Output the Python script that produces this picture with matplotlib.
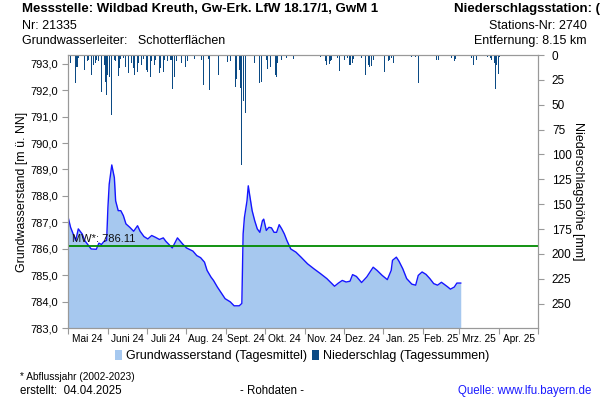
import numpy as np
import matplotlib
matplotlib.use("Agg")
import matplotlib.pyplot as plt
from matplotlib.patches import Patch
from matplotlib.ticker import FuncFormatter, MultipleLocator

plt.rcParams['font.family'] = ['Liberation Sans', 'DejaVu Sans']

start = np.datetime64('2024-05-01')

# Groundwater level (daily mean), day offsets from 2024-05-01
gw_day = [0, 2, 4, 6, 8, 11, 13, 15, 18, 22, 24, 26, 28, 30, 31, 32, 34, 36, 37, 39,
          41, 43, 45, 48, 51, 54, 56, 59, 62, 65, 68, 71, 74, 76, 81, 85, 89, 92, 97, 100,
          103, 106, 108, 111, 113, 116, 119, 122, 126, 129, 133, 135, 136, 137, 139, 140,
          141, 143, 145, 147, 149, 151, 152, 154, 156, 158, 160, 162, 164, 166, 168, 170,
          173, 177, 181, 186, 191, 196, 201, 207, 210, 213, 216, 219, 221, 224, 228, 232,
          237, 240, 244, 248, 251, 252, 255, 257, 260, 263, 267, 270, 272, 275, 278, 281,
          284, 287, 290, 292, 295, 297, 300, 302, 305]
gw_val = [787.21, 786.81, 786.56, 786.31, 786.75, 786.56, 786.31, 786.18, 785.99, 785.98,
          786.21, 786.16, 786.28, 786.31, 787.56, 788.44, 789.17, 788.69, 787.81, 787.44,
          787.44, 787.25, 786.94, 786.81, 786.66, 786.87, 786.66, 786.46, 786.37, 786.50,
          786.43, 786.35, 786.41, 786.28, 786.03, 786.41, 786.18, 786.03, 785.91, 785.74,
          785.66, 785.49, 785.18, 784.93, 784.80, 784.55, 784.33, 784.11, 783.99, 783.84,
          783.84, 783.93, 786.56, 787.18, 787.81, 788.38, 788.06, 787.44, 787.06, 786.75,
          786.62, 787.06, 787.12, 786.69, 786.81, 786.79, 786.62, 786.62, 786.91, 786.75,
          786.56, 786.31, 785.99, 785.87, 785.68, 785.43, 785.24, 785.06, 784.87, 784.58,
          784.70, 784.80, 784.74, 784.77, 785.02, 784.95, 784.72, 784.93, 785.30, 785.18,
          784.99, 784.83, 785.18, 785.56, 785.68, 785.53, 785.24, 784.87, 784.66, 784.62,
          784.99, 785.12, 785.03, 784.87, 784.68, 784.62, 784.73, 784.66, 784.55, 784.47,
          784.55, 784.70, 784.70]

# Daily precipitation sums [mm], day offsets from 2024-05-01
pr_day = [2, 6, 7, 8, 13, 15, 16, 18, 20, 21, 22, 24, 26, 28, 29, 30, 31, 32, 34, 36,
          37, 39, 40, 41, 43, 45, 47, 49, 51, 52, 54, 55, 57, 59, 61, 62, 64, 65, 67, 68,
          71, 72, 74, 75, 77, 80, 81, 83, 84, 88, 91, 93, 98, 104, 105, 109, 110, 117, 124,
          126, 130, 131, 133, 134, 135, 136, 138, 145, 149, 150, 154, 155, 157, 161, 162,
          163, 166, 170, 175, 196, 200, 201, 203, 204, 205, 209, 211, 215, 217, 219, 221,
          222, 228, 231, 233, 234, 236, 237, 246, 249, 250, 251, 253, 267, 270, 272, 286,
          288, 298, 300, 301, 313, 315, 317, 326, 328, 329, 331, 332, 333, 334, 335]
pr_val = [8, 28, 12, 3, 15, 6, 5, 20, 10, 8, 5, 6, 37, 10, 27, 40, 20, 22, 60, 5,
          6, 21, 13, 4, 3, 12, 18, 8, 13, 20, 17, 8, 10, 4, 15, 17, 22, 6, 10, 5,
          18, 13, 17, 5, 6, 5, 34, 22, 6, 8, 12, 6, 4, 5, 30, 4, 35, 20, 7,
          6, 32, 24, 15, 33, 111, 46, 58, 8, 28, 27, 5, 14, 12, 20, 22,
          8, 5, 3, 4, 2.5, 6, 10, 9, 6, 5, 3, 16, 5, 3, 10, 8,
          4, 3, 20, 10, 12, 11, 5, 17, 6, 5, 3, 8, 2, 2, 28, 5,
          5, 3, 6, 4, 3, 10, 5, 2, 3, 5, 8, 34, 10, 19, 2]

mw_value = 786.11

month_labels = ["Mai 24", "Juni 24", "Juli 24", "Aug. 24", "Sept. 24", "Okt. 24",
                "Nov. 24", "Dez. 24", "Jan. 25", "Feb. 25", "Mrz. 25", "Apr. 25"]

gw_x = start + np.array(gw_day).astype('timedelta64[D]')
pr_x = start + np.array(pr_day).astype('timedelta64[D]')

fig = plt.figure(figsize=(6, 4), dpi=100)
ax = fig.add_axes([68/600, 1-328/400, 470/600, 273/400])
grey = '#999999'

ax.fill_between(gw_x, 783.0, gw_val, color='#a6c8ef', lw=0, zorder=1)
ax.plot(gw_x, gw_val, color='#1515ff', lw=1.0, zorder=2)
ax.axhline(mw_value, color='#008a00', lw=1.3, zorder=3)
ax.text(start + np.timedelta64(3, 'D'), mw_value + 0.08, 'MW*: 786.11', fontsize=8,
        color='#111111', va='bottom', ha='left', zorder=4)

ax.set_ylim(783.0, 793.33)
ax.yaxis.set_major_locator(MultipleLocator(1.0))
ax.yaxis.set_major_formatter(FuncFormatter(lambda v, p: f"{v:.1f}".replace('.', ',')))
ax.set_xlim(start, np.datetime64('2025-05-01'))

month_starts = [(np.datetime64('2024-05', 'M') + i).astype('datetime64[D]') for i in range(13)]
ax.set_xticks(month_starts)
ax.set_xticklabels([])
mids = [month_starts[i] + (month_starts[i+1] - month_starts[i]) // 2 for i in range(12)]
ax.set_xticks(mids, minor=True)
ax.set_xticklabels(month_labels, minor=True, fontsize=7.3)
ax.tick_params(axis='x', which='minor', length=0, pad=4)
ax.tick_params(axis='x', which='major', length=4, color=grey)
ax.tick_params(axis='y', length=4, color=grey, labelsize=8, pad=3)
for s in ax.spines.values():
    s.set_color(grey)
ax.set_ylabel('Grundwasserstand [m ü. NN]', fontsize=8.9, labelpad=2)

ax2 = ax.twinx()
ax2.bar(pr_x, pr_val, width=0.8, color='#0b4a84', align='center', zorder=2)
ax2.set_ylim(274.5, 0)
ax2.set_yticks(np.arange(0, 251, 25))
ax2.tick_params(axis='y', length=4, color=grey, labelsize=8.5, pad=6)
for s in ax2.spines.values():
    s.set_color(grey)
ax2.set_ylabel('Niederschlagshöhe [mm]', fontsize=9, rotation=-90, labelpad=9)

# header
fig.text(22/600, 1-9/400, 'Messstelle: Wildbad Kreuth, Gw-Erk. LfW 18.17/1, GwM 1',
         fontsize=9.5, fontweight='bold', va='center', ha='left')
fig.text(22/600, 1-26/400, 'Nr: 21335', fontsize=9, va='center', ha='left')
fig.text(22/600, 1-41/400, 'Grundwasserleiter:   Schotterflächen', fontsize=9, va='center', ha='left')
fig.text(600/600, 1-9/400, 'Niederschlagsstation: (', fontsize=9.5, fontweight='bold',
         va='center', ha='right')
fig.text(587/600, 1-26/400, 'Stations-Nr: 2740', fontsize=9, va='center', ha='right')
fig.text(587/600, 1-41/400, 'Entfernung: 8.15 km', fontsize=9, va='center', ha='right')

# legend
handles = [Patch(facecolor='#a6c8ef', edgecolor='none', label='Grundwasserstand (Tagesmittel)'),
           Patch(facecolor='#0b4a84', edgecolor='none', label='Niederschlag (Tagessummen)')]
fig.legend(handles=handles, loc='center', bbox_to_anchor=(302/600, 1-356/400), ncol=2,
           frameon=False, fontsize=9, handlelength=0.6, handleheight=0.9,
           handletextpad=0.3, columnspacing=0.4)

# footer
fig.text(20/600, 1-377/400, '* Abflussjahr (2002-2023)', fontsize=7.3, va='center', ha='left')
fig.text(20/600, 1-391/400, 'erstellt:  04.04.2025', fontsize=8.3, va='center', ha='left')
fig.text(272/600, 1-391/400, '- Rohdaten -', fontsize=8.3, va='center', ha='center')
fig.text(591/600, 1-391/400, 'Quelle: www.lfu.bayern.de', fontsize=8.3, va='center',
         ha='right', color='#1a1aff')

fig.savefig('out.png', dpi=100)
